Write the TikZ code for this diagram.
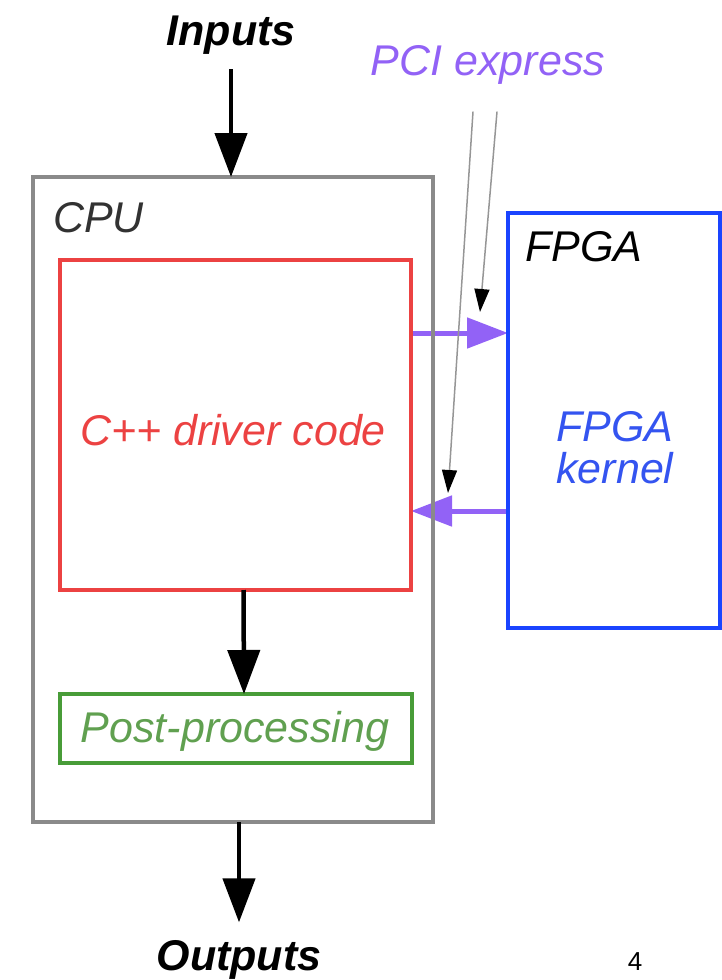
\documentclass[tikz,border=0pt]{standalone}
\usepackage{fontspec}
\setmainfont{Liberation Sans}
\usetikzlibrary{arrows.meta,backgrounds}

\definecolor{cpugray}{RGB}{138,138,138}
\definecolor{drvred}{RGB}{236,66,66}
\definecolor{postgreen}{RGB}{72,156,56}
\definecolor{posttext}{RGB}{96,160,80}
\definecolor{fpgablue}{RGB}{26,68,255}
\definecolor{kerntext}{RGB}{52,84,240}
\definecolor{pcipurple}{RGB}{146,98,246}
\definecolor{hintgray}{RGB}{150,150,150}
\definecolor{cputext}{RGB}{50,50,50}

\begin{document}
\begin{tikzpicture}[x=1pt,y=-1pt,
  box/.style={draw, line width=4.5pt, inner sep=0pt, outer sep=0pt},
  lbl/.style={inner sep=0pt, font=\fontsize{43}{42}\selectfont\itshape},
  bold/.style={inner sep=0pt, font=\fontsize{43}{42}\selectfont\bfseries\itshape},
  flow/.style={line width=4.5pt, -{Triangle[length=44pt,width=32pt]}},
  bus/.style={draw=pcipurple, line width=5pt, -{Triangle[length=41pt,width=30pt]}},
  hint/.style={draw=hintgray, line width=1.5pt, -{Triangle[length=23pt,width=15pt,color=black]}}]
\useasboundingbox (0,0) rectangle (721,980);

% outer blocks
\node[box, draw=cpugray, minimum width=400pt, minimum height=645pt] (cpu) at (233,499.5) {};
\node[box, draw=fpgablue, minimum width=212pt, minimum height=415pt] (fpga) at (614,420.5) {};

% CPU contents
\node[box, draw=drvred, minimum width=351pt, minimum height=330pt] (drv) at (235.5,425) {};
\node[box, draw=postgreen, minimum width=352pt, minimum height=69pt] (post) at (236,728.5) {};

% labels
\node[lbl, text=cputext, anchor=west] (cpulbl) at (53,218) {CPU};
\node[lbl, anchor=west] (fpgalbl) at (525,247) {FPGA};
\node[lbl, text=drvred] (drvlbl) at (233,430) {C++ driver code};
\node[lbl, text=posttext] (postlbl) at (235,731) {Post-processing};
\node[lbl, text=kerntext, align=center] (kern) at (615,448) {FPGA\\kernel};
\node[bold] (inputs) at (231,35) {Inputs};
\node[bold] (outputs) at (239,960) {Outputs};
\node[lbl, text=pcipurple] (pci) at (488,65) {PCI express};
\node[inner sep=0pt, font=\fontsize{26}{26}\selectfont] (page) at (635,962) {4};

% data flow
\draw[flow] ([yshift=-15pt]inputs.south) -- (inputs.south |- cpu.north);
\draw[flow] ([xshift=8pt]drv.south) -- ([xshift=8pt]post.north);
\draw[flow] (outputs.north |- cpu.south) -- ([yshift=18pt]outputs.north);

% PCI express transfers (under the CPU border)
\begin{pgfonlayer}{background}
\draw[bus] ([yshift=92pt]drv.east) -- ([yshift=92pt]drv.east -| fpga.west);
\draw[bus] ([yshift=-86pt]drv.east -| fpga.west) -- ([yshift=-86pt]drv.east);
\end{pgfonlayer}

% pointers from the PCI express label
\coordinate (toA) at (448,493);
\coordinate (toB) at (480,312);
\draw[hint] ([xshift=-15pt,yshift=-27pt]pci.south) -- (toA);
\draw[hint] ([xshift=9pt,yshift=-27pt]pci.south) -- (toB);
\end{tikzpicture}
\end{document}
